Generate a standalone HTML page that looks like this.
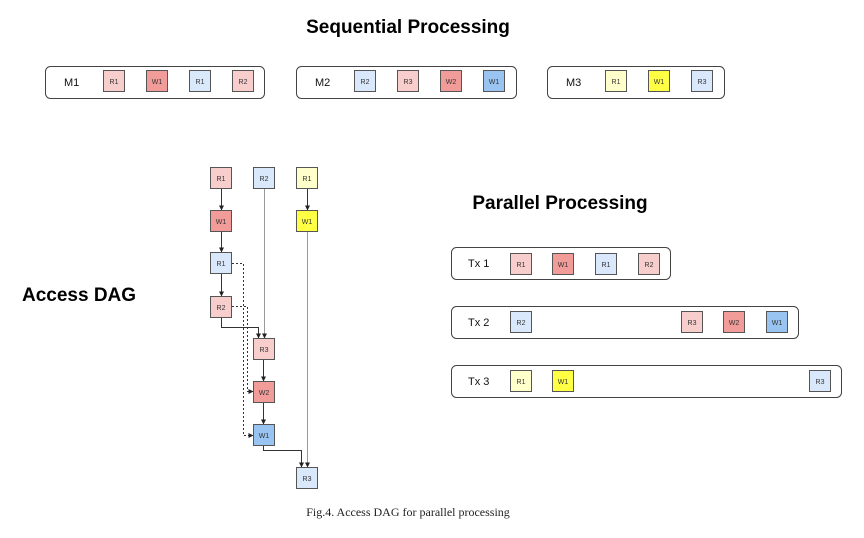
<!DOCTYPE html>
<html><head><meta charset="utf-8"><style>
html,body{margin:0;padding:0;background:#fff;}
svg{display:block;}
text{font-family:"Liberation Sans",sans-serif;}
</style></head><body>
<svg width="864" height="538" viewBox="0 0 864 538" xmlns="http://www.w3.org/2000/svg">
<defs>
<marker id="a" viewBox="0 0 10 10" refX="9" refY="5" markerWidth="5" markerHeight="5" orient="auto"><path d="M0,0L10,5L0,10z" fill="#222"/></marker>
<g id="x"></g>
</defs>
<text x="408" y="33" font-size="19" font-weight="bold" text-anchor="middle" fill="#000">Sequential Processing</text>
<text x="560" y="209" font-size="19" font-weight="bold" text-anchor="middle" fill="#000">Parallel Processing</text>
<text x="22" y="301" font-size="19" font-weight="bold" fill="#000">Access DAG</text>
<text x="408" y="516" font-size="12" text-anchor="middle" font-family="Liberation Serif,serif" style="font-family:'Liberation Serif',serif" fill="#222">Fig.4.  Access DAG for parallel processing</text>

<g fill="#fff" stroke="#444" stroke-width="1">
<rect x="45.5" y="66.5" width="219" height="32" rx="5"/>
<rect x="296.5" y="66.5" width="220" height="32" rx="5"/>
<rect x="547.5" y="66.5" width="177" height="32" rx="5"/>
<rect x="451.5" y="247.5" width="219" height="32" rx="5"/>
<rect x="451.5" y="306.5" width="347" height="32" rx="5"/>
<rect x="451.5" y="365.5" width="390" height="32" rx="5"/>
</g>
<g font-size="11" fill="#111">
<text x="64" y="86">M1</text><text x="315" y="86">M2</text><text x="566" y="86">M3</text>
<text x="468" y="267">Tx 1</text><text x="468" y="326">Tx 2</text><text x="468" y="385">Tx 3</text>
</g>

<g stroke="#555" stroke-width="1" font-size="7" text-anchor="middle">
<!-- seq -->
<g><rect x="103.5" y="70.5" width="21" height="21" fill="#f8cecc"/><text x="114" y="84" stroke="none" fill="#333">R1</text></g>
<g><rect x="146.5" y="70.5" width="21" height="21" fill="#f19c99"/><text x="157" y="84" stroke="none" fill="#333">W1</text></g>
<g><rect x="189.5" y="70.5" width="21" height="21" fill="#dae8fc"/><text x="200" y="84" stroke="none" fill="#333">R1</text></g>
<g><rect x="232.5" y="70.5" width="21" height="21" fill="#f8cecc"/><text x="243" y="84" stroke="none" fill="#333">R2</text></g>
<g><rect x="354.5" y="70.5" width="21" height="21" fill="#dae8fc"/><text x="365" y="84" stroke="none" fill="#333">R2</text></g>
<g><rect x="397.5" y="70.5" width="21" height="21" fill="#f8cecc"/><text x="408" y="84" stroke="none" fill="#333">R3</text></g>
<g><rect x="440.5" y="70.5" width="21" height="21" fill="#f19c99"/><text x="451" y="84" stroke="none" fill="#333">W2</text></g>
<g><rect x="483.5" y="70.5" width="21" height="21" fill="#99c4f2"/><text x="494" y="84" stroke="none" fill="#333">W1</text></g>
<g><rect x="605.5" y="70.5" width="21" height="21" fill="#ffffcc"/><text x="616" y="84" stroke="none" fill="#333">R1</text></g>
<g><rect x="648.5" y="70.5" width="21" height="21" fill="#ffff44"/><text x="659" y="84" stroke="none" fill="#333">W1</text></g>
<g><rect x="691.5" y="70.5" width="21" height="21" fill="#dae8fc"/><text x="702" y="84" stroke="none" fill="#333">R3</text></g>
<!-- parallel -->
<g><rect x="510.5" y="253.5" width="21" height="21" fill="#f8cecc"/><text x="521" y="267" stroke="none" fill="#333">R1</text></g>
<g><rect x="552.5" y="253.5" width="21" height="21" fill="#f19c99"/><text x="563" y="267" stroke="none" fill="#333">W1</text></g>
<g><rect x="595.5" y="253.5" width="21" height="21" fill="#dae8fc"/><text x="606" y="267" stroke="none" fill="#333">R1</text></g>
<g><rect x="638.5" y="253.5" width="21" height="21" fill="#f8cecc"/><text x="649" y="267" stroke="none" fill="#333">R2</text></g>
<g><rect x="510.5" y="311.5" width="21" height="21" fill="#dae8fc"/><text x="521" y="325" stroke="none" fill="#333">R2</text></g>
<g><rect x="681.5" y="311.5" width="21" height="21" fill="#f8cecc"/><text x="692" y="325" stroke="none" fill="#333">R3</text></g>
<g><rect x="723.5" y="311.5" width="21" height="21" fill="#f19c99"/><text x="734" y="325" stroke="none" fill="#333">W2</text></g>
<g><rect x="766.5" y="311.5" width="21" height="21" fill="#99c4f2"/><text x="777" y="325" stroke="none" fill="#333">W1</text></g>
<g><rect x="510.5" y="370.5" width="21" height="21" fill="#ffffcc"/><text x="521" y="384" stroke="none" fill="#333">R1</text></g>
<g><rect x="552.5" y="370.5" width="21" height="21" fill="#ffff44"/><text x="563" y="384" stroke="none" fill="#333">W1</text></g>
<g><rect x="809.5" y="370.5" width="21" height="21" fill="#dae8fc"/><text x="820" y="384" stroke="none" fill="#333">R3</text></g>
</g>

<!-- DAG connectors -->
<g stroke="#333" stroke-width="1" fill="none">
<path d="M221.5 189V210" marker-end="url(#a)"/>
<path d="M221.5 231V252" marker-end="url(#a)"/>
<path d="M221.5 274V296" marker-end="url(#a)"/>
<path d="M221.5 317V327.5H258.5V338" marker-end="url(#a)"/>
<path d="M307.5 189V210" marker-end="url(#a)"/>
<path d="M263.5 359V381" marker-end="url(#a)"/>
<path d="M263.5 402V424" marker-end="url(#a)"/>
<path d="M263.5 446V450.5H301.5V467" marker-end="url(#a)"/>
<path d="M232 263.5H243.5V435.5H253" stroke-dasharray="2,2" marker-end="url(#a)"/>
<path d="M232 306.5H247.5V391.5H253" stroke-dasharray="2,2" marker-end="url(#a)"/>
</g>
<g stroke="#999" stroke-width="1" fill="none">
<path d="M264.5 189V338" marker-end="url(#a)"/>
<path d="M307.5 231V467" marker-end="url(#a)"/>
</g>

<g stroke="#555" stroke-width="1" font-size="7" text-anchor="middle">
<g><rect x="210.5" y="167.5" width="21" height="21" fill="#f8cecc"/><text x="221" y="181" stroke="none" fill="#333">R1</text></g>
<g><rect x="253.5" y="167.5" width="21" height="21" fill="#dae8fc"/><text x="264" y="181" stroke="none" fill="#333">R2</text></g>
<g><rect x="296.5" y="167.5" width="21" height="21" fill="#ffffcc"/><text x="307" y="181" stroke="none" fill="#333">R1</text></g>
<g><rect x="210.5" y="210.5" width="21" height="21" fill="#f19c99"/><text x="221" y="224" stroke="none" fill="#333">W1</text></g>
<g><rect x="296.5" y="210.5" width="21" height="21" fill="#ffff44"/><text x="307" y="224" stroke="none" fill="#333">W1</text></g>
<g><rect x="210.5" y="252.5" width="21" height="21" fill="#dae8fc"/><text x="221" y="266" stroke="none" fill="#333">R1</text></g>
<g><rect x="210.5" y="296.5" width="21" height="21" fill="#f8cecc"/><text x="221" y="310" stroke="none" fill="#333">R2</text></g>
<g><rect x="253.5" y="338.5" width="21" height="21" fill="#f8cecc"/><text x="264" y="352" stroke="none" fill="#333">R3</text></g>
<g><rect x="253.5" y="381.5" width="21" height="21" fill="#f19c99"/><text x="264" y="395" stroke="none" fill="#333">W2</text></g>
<g><rect x="253.5" y="424.5" width="21" height="21" fill="#99c4f2"/><text x="264" y="438" stroke="none" fill="#333">W1</text></g>
<g><rect x="296.5" y="467.5" width="21" height="21" fill="#dae8fc"/><text x="307" y="481" stroke="none" fill="#333">R3</text></g>
</g>
</svg>
</body></html>
